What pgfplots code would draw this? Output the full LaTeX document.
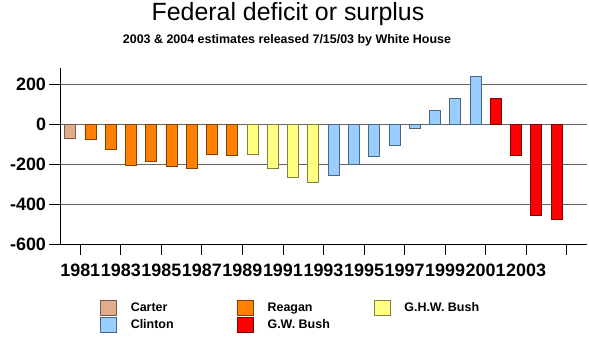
\documentclass[border=0pt]{standalone}
\usepackage{fontspec}
\setmainfont{Liberation Sans}
\usepackage{pgfplots}
\pgfplotsset{compat=1.18}
\definecolor{cartF}{RGB}{225,172,140}
\definecolor{cartD}{RGB}{120,90,72}
\definecolor{reagF}{RGB}{255,128,0}
\definecolor{reagD}{RGB}{128,64,0}
\definecolor{ghwF}{RGB}{255,255,128}
\definecolor{ghwD}{RGB}{128,128,64}
\definecolor{clinF}{RGB}{153,204,255}
\definecolor{clinD}{RGB}{76,102,128}
\definecolor{gwF}{RGB}{255,0,0}
\definecolor{gwD}{RGB}{128,0,0}
\definecolor{gridc}{RGB}{100,100,100}
\pgfplotsset{
  boxlegend/.style={legend image code/.code={\draw[##1,line width=0.8bp] (0bp,-7.5bp) rectangle (16bp,7.5bp);}},
}
\begin{document}
\begin{tikzpicture}
\begin{axis}[
  scale only axis, width=527bp, height=176bp,
  xmin=-0.5, xmax=25.5, ymin=-600, ymax=280,
  axis x line=bottom, axis y line=left,
  axis line style={-, black, line width=0.9bp},
  ytick={-600,-400,-200,0,200}, yticklabels={-600,-400,-200,0,200},
  xtick={0.5,2.5,...,24.5},
  xticklabels={1981,1983,1985,1987,1989,1991,1993,1995,1997,1999,2001,2003,{}},
  tick align=outside, major tick length=10.5bp,
  tick style={black, line width=0.9bp},
  ymajorgrids, grid style={color=gridc, line width=0.9bp},
  ticklabel style={font=\fontsize{18}{18}\selectfont\bfseries},
  xticklabel style={yshift=-6bp},
  ybar, bar width=11bp, bar shift=0pt,
  legend columns=3,
  legend style={draw=none, fill=none, at={(axis description cs:0.0759,-0.318)}, anchor=north west,
    inner sep=0pt, outer sep=0pt, row sep=1.5bp,
    font=\fontsize{12.5}{12.5}\selectfont\bfseries,
    /tikz/every odd column/.append style={column sep=14bp},
    nodes={inner sep=0pt}},
  clip=false,
]
\addplot[fill=cartF, draw=cartD, line width=0.8bp, bar shift=0pt, boxlegend] coordinates {(0,-73.8)};
\addlegendentry{\makebox[106bp][l]{Carter}}
\addplot[fill=reagF, draw=reagD, line width=0.8bp, bar shift=0pt, boxlegend] coordinates {
 (1,-79.0) (2,-128.0) (3,-207.8) (4,-185.4) (5,-212.3) (6,-221.2) (7,-149.7) (8,-155.2)};
\addlegendentry{\makebox[106bp][l]{Reagan}}
\addplot[fill=ghwF, draw=ghwD, line width=0.8bp, bar shift=0pt, boxlegend] coordinates {
 (9,-152.6) (10,-221.0) (11,-269.2) (12,-290.3)};
\addlegendentry{\makebox[106bp][l]{G.H.W. Bush}}
\addplot[fill=clinF, draw=clinD, line width=0.8bp, bar shift=0pt, boxlegend] coordinates {
 (13,-255.1) (14,-203.2) (15,-164.0) (16,-107.4) (17,-21.9) (18,69.3) (19,125.6) (20,236.2)};
\addlegendentry{\makebox[106bp][l]{Clinton}}
\addplot[fill=gwF, draw=gwD, line width=0.8bp, bar shift=0pt, boxlegend] coordinates {
 (21,127.3) (22,-157.8) (23,-455.0) (24,-475.0)};
\addlegendentry{\makebox[106bp][l]{G.W. Bush}}
\node[anchor=base, font=\fontsize{25}{25}\selectfont] at (axis description cs:0.4326,1.27) {Federal deficit or surplus};
\node[anchor=base, font=\fontsize{12.5}{12.5}\selectfont\bfseries] at (axis description cs:0.4307,1.142) {2003 \& 2004 estimates released 7/15/03 by White House};
\end{axis}
\pgfresetboundingbox
\path[use as bounding box] (-60bp,-100bp) rectangle (529bp,244bp);
\end{tikzpicture}
\end{document}
